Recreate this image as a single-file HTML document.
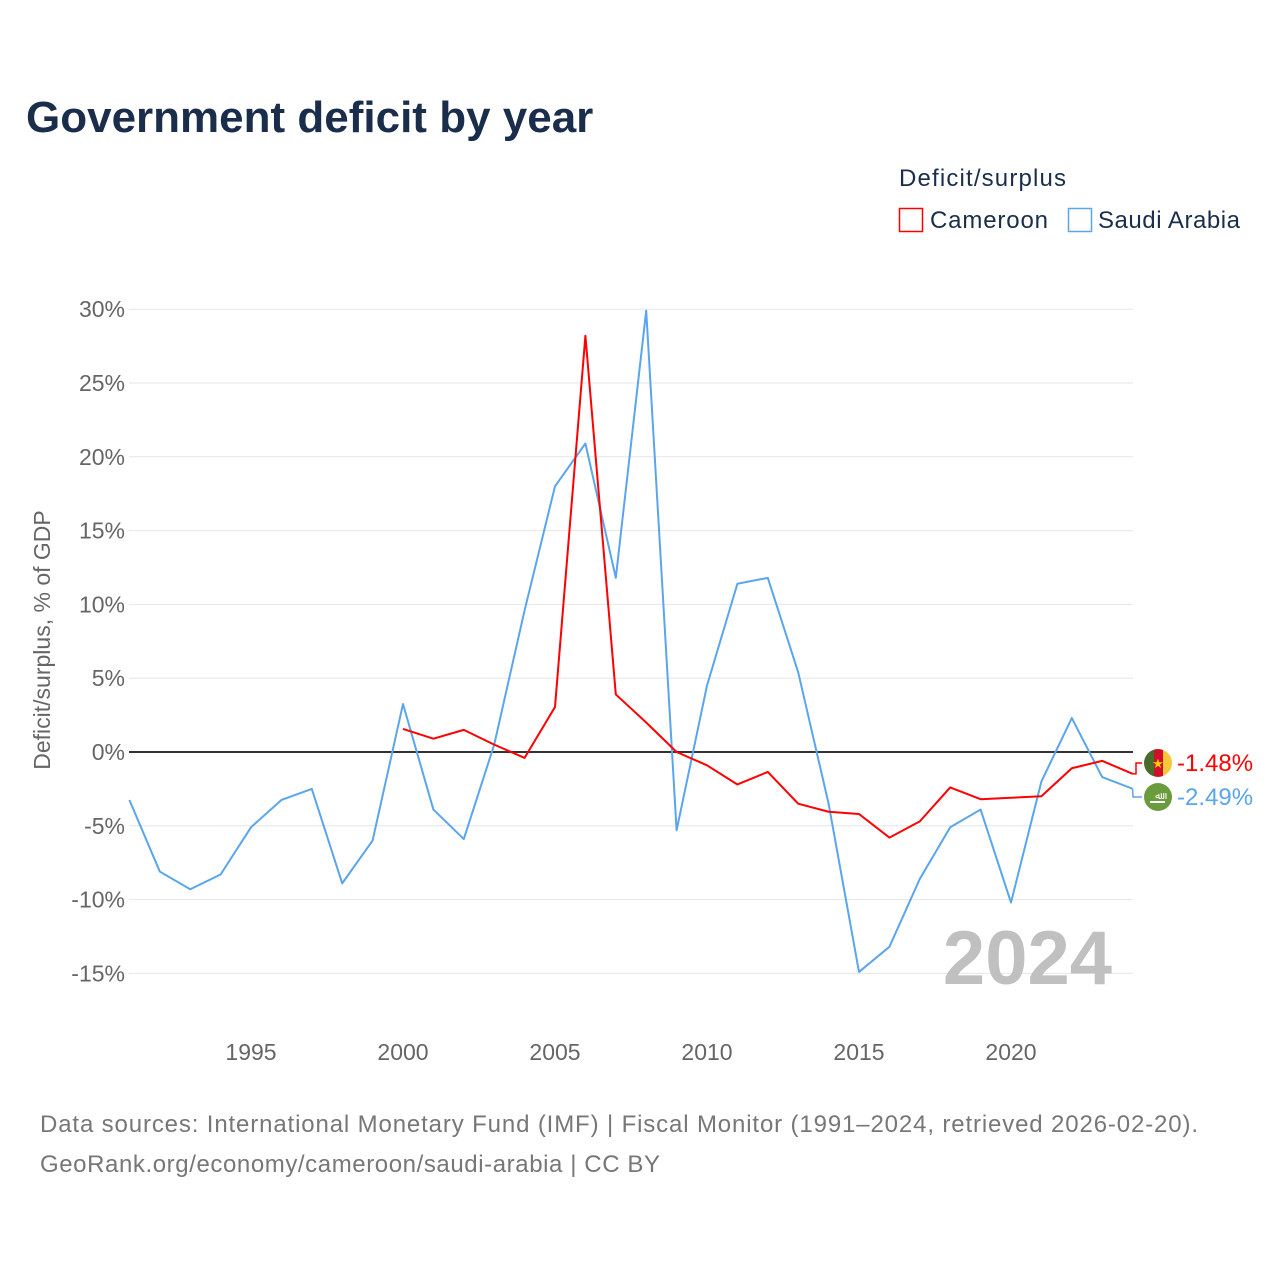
<!DOCTYPE html>
<html><head><meta charset="utf-8"><style>
body{margin:0;background:#fff;font-family:"Liberation Sans",sans-serif;}
#wrap{position:relative;width:1280px;height:1280px;overflow:hidden;}
</style></head><body>
<div id="wrap">
<svg id="chart" width="1280" height="1280">
<text x="26" y="132" font-size="44" font-weight="bold" fill="#1a2e4c">Government deficit by year</text>
<text x="899" y="186" font-size="24" fill="#1a2e4c" textLength="167">Deficit/surplus</text>
<g><rect x="899.5" y="208.5" width="23" height="23" fill="none" stroke="#ff0000" stroke-width="1.5"/><text x="930" y="228" font-size="24" fill="#1a2e4c" textLength="118">Cameroon</text></g>
<g><rect x="1068.5" y="208.5" width="23" height="23" fill="none" stroke="#5aa5ec" stroke-width="1.5"/><text x="1098" y="228" font-size="24" fill="#1a2e4c" textLength="142">Saudi Arabia</text></g>
<g id="grid"></g>
<text x="1112" y="984" font-size="76" font-weight="bold" fill="#c0c0c0" text-anchor="end">2024</text>
<text transform="translate(50,640) rotate(-90)" font-size="23" fill="#666" text-anchor="middle">Deficit/surplus, % of GDP</text>
<g id="series"></g>
<text x="40" y="1132" font-size="24" fill="#777" textLength="1158">Data sources: International Monetary Fund (IMF) | Fiscal Monitor (1991–2024, retrieved 2026-02-20).</text>
<text x="40" y="1172" font-size="24" fill="#777" textLength="620">GeoRank.org/economy/cameroon/saudi-arabia | CC BY</text>
</svg>
</div>
<script>
const saudiYears=[1991,1992,1993,1994,1995,1996,1997,1998,1999,2000,2001,2002,2003,2004,2005,2006,2007,2008,2009,2010,2011,2012,2013,2014,2015,2016,2017,2018,2019,2020,2021,2022,2023,2024];
const saudiValues=[-3.25,-8.1,-9.3,-8.3,-5.1,-3.25,-2.5,-8.9,-6.0,3.25,-3.9,-5.9,0.5,9.6,18.0,20.9,11.8,29.9,-5.3,4.5,11.4,11.8,5.4,-3.5,-14.9,-13.2,-8.6,-5.1,-3.9,-10.2,-2.0,2.3,-1.7,-2.49];
const camYears=[2000,2001,2002,2003,2004,2005,2006,2007,2008,2009,2010,2011,2012,2013,2014,2015,2016,2017,2018,2019,2020,2021,2022,2023,2024];
const camValues=[1.56,0.9,1.5,0.5,-0.4,3.05,28.2,3.9,2.0,0,-0.9,-2.2,-1.35,-3.5,-4.05,-4.2,-5.8,-4.7,-2.4,-3.2,-3.1,-3.0,-1.1,-0.6,-1.48];
const yTicks=[30,25,20,15,10,5,0,-5,-10,-15];
const xTicks=[1995,2000,2005,2010,2015,2020];
const NS="http://www.w3.org/2000/svg";
const x=yr=>129.4+(yr-1991)*(1132.6-129.4)/33;
const y=v=>752-v*14.76;
function mk(t,a,p){const e=document.createElementNS(NS,t);for(const k in a)e.setAttribute(k,a[k]);p.appendChild(e);return e;}
const g=document.getElementById('grid');
yTicks.forEach(v=>{
  const l=mk('line',{x1:129,x2:1133,y1:y(v),y2:y(v),stroke:v===0?'#333':'#e6e6e6','stroke-width':v===0?2:1},g);
  
  
  const t=mk('text',{x:125,y:y(v)+8,'font-size':23,fill:'#666','text-anchor':'end'},g);
  t.textContent=v+'%';
  
  
});
xTicks.forEach(yr=>{
  const t=mk('text',{x:x(yr),y:1060,'font-size':23,fill:'#666','text-anchor':'middle'},g);
  t.textContent=yr;
  
  
});
const s=document.getElementById('series');
function line(xs,vs,col,name){
  const p=mk('polyline',{points:xs.map((yr,i)=>x(yr)+','+y(vs[i])).join(' '),fill:'none',stroke:col,'stroke-width':2,'stroke-linejoin':'round'},s);
  
  
}
line(saudiYears,saudiValues,'#5aa5ec','saudi-arabia-line');
line(camYears,camValues,'#ff0000','cameroon-line');
const cv=camValues[camValues.length-1], sv=saudiValues[saudiValues.length-1];
const c1=mk('polyline',{points:`${x(2024)},${y(cv)} 1136,${y(cv)} 1136,763 1142,763`,fill:'none',stroke:'#ff0000','stroke-width':1.5},s);


const c2=mk('polyline',{points:`${x(2024)},${y(sv)} 1133,797 1142,797`,fill:'none',stroke:'#5aa5ec','stroke-width':1.5},s);


const fl=mk('g',{},s);


mk('clipPath',{id:'cc'},fl).appendChild(document.createElementNS(NS,'circle')).setAttribute('r','14');
const fg=mk('g',{transform:'translate(1158,763)','clip-path':'url(#cc)'},fl);
mk('rect',{x:-14,y:-14,width:10,height:28,fill:'#4a6b2a'},fg);
mk('rect',{x:-4,y:-14,width:9,height:28,fill:'#d0102a'},fg);
mk('rect',{x:5,y:-14,width:10,height:28,fill:'#f7c93a'},fg);
mk('text',{x:0,y:5,'font-size':13,fill:'#f7d000','text-anchor':'middle'},fg).textContent='★';
const sf=mk('g',{},s);


mk('circle',{cx:1158,cy:797,r:14,fill:'#6a9c3e'},sf);
mk('rect',{x:1150,y:801,width:15,height:2,fill:'#fff'},sf);
mk('text',{x:1158,y:799,'font-size':10,fill:'#fff','text-anchor':'middle'},sf).textContent='ﷲ';
const t1=mk('text',{x:1177,y:771,'font-size':24,fill:'#ff0000'},s);
t1.textContent=cv.toFixed(2)+'%';


const t2=mk('text',{x:1177,y:805,'font-size':24,fill:'#5aa5ec'},s);
t2.textContent=sv.toFixed(2)+'%';


</script>
</body></html>
